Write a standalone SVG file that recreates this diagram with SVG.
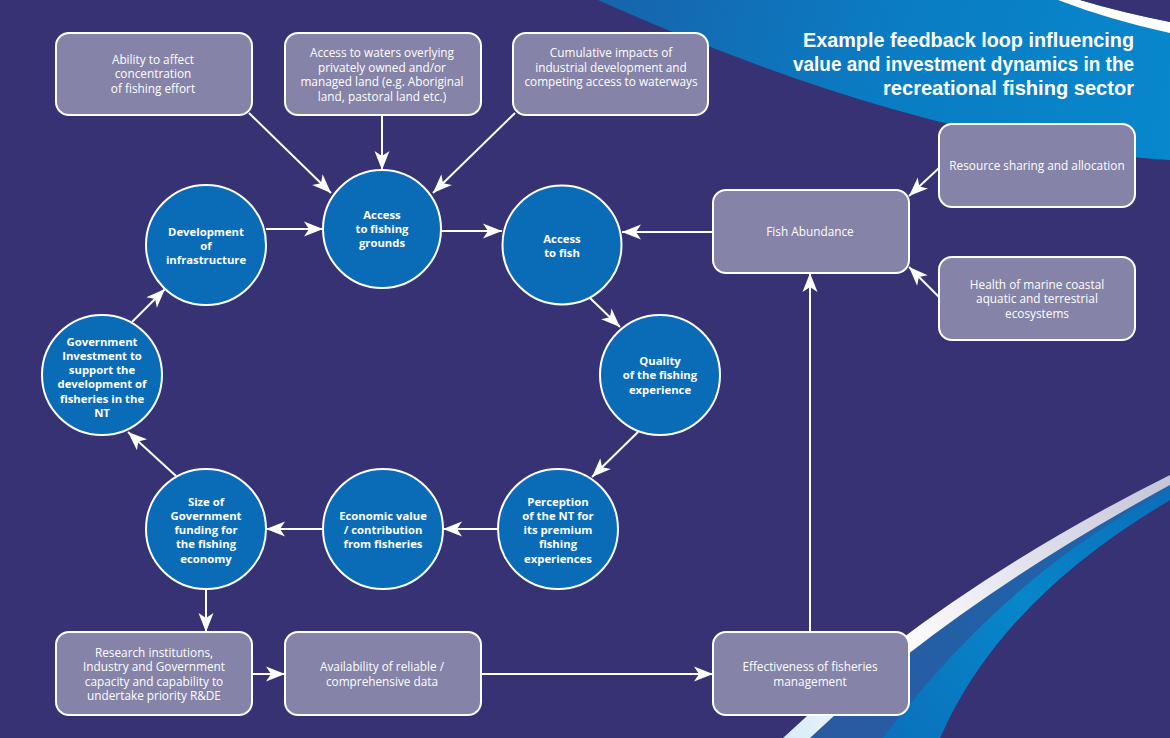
<svg xmlns="http://www.w3.org/2000/svg" width="1170" height="738" viewBox="0 0 1170 738">
<defs>
<linearGradient id="gTop" x1="600" y1="0" x2="1170" y2="120" gradientUnits="userSpaceOnUse">
<stop offset="0" stop-color="#1764ac"/><stop offset="0.5" stop-color="#0a7cc3"/><stop offset="1" stop-color="#0887cc"/>
</linearGradient>
<linearGradient id="gWhite" x1="790" y1="738" x2="1170" y2="480" gradientUnits="userSpaceOnUse">
<stop offset="0" stop-color="#d8ecf8"/><stop offset="0.3" stop-color="#ffffff"/><stop offset="1" stop-color="#c4c4da"/>
</linearGradient>
<linearGradient id="gDark" x1="800" y1="738" x2="1170" y2="490" gradientUnits="userSpaceOnUse">
<stop offset="0" stop-color="#2a5aa0"/><stop offset="1" stop-color="#1b66ad"/>
</linearGradient>
<linearGradient id="gBright" x1="900" y1="738" x2="1170" y2="500" gradientUnits="userSpaceOnUse">
<stop offset="0" stop-color="#0a72bd"/><stop offset="0.5" stop-color="#0786ca"/><stop offset="1" stop-color="#0a6fb9"/>
</linearGradient>
<marker id="ah" viewBox="-20 -8 21 16" refX="0" refY="0" markerWidth="21" markerHeight="16" markerUnits="userSpaceOnUse" orient="auto">
<path d="M0,0 L-19,-7.5 L-14,0 L-19,7.5 Z" fill="#ffffff"/>
</marker>
<style>
.box{fill:#8583a8;stroke:#ffffff;stroke-width:2}
.circ{fill:#0a6cb7;stroke:#ffffff;stroke-width:2}
.bt{font-family:"Open Sans","Noto Sans",sans-serif;font-size:11.8px;fill:#ffffff;text-anchor:middle}
.ct{font-family:"Open Sans","Noto Sans",sans-serif;font-size:11.3px;font-weight:bold;fill:#ffffff;text-anchor:middle}
.title{font-family:"Liberation Sans",Arial,sans-serif;font-size:21px;font-weight:bold;fill:#ffffff;text-anchor:end}
.con line{stroke:#ffffff;stroke-width:2;marker-end:url(#ah)}
</style>
</defs>
<rect width="1170" height="738" fill="#363273"/>
<g id="swoosh-top">
<path d="M598 0 L1170 0 L1170 160 C1000 150 800 90 598 0 Z" fill="url(#gTop)"/>
<path d="M1058 0 L1080 0 Q1120 12 1170 22 L1170 33 Q1110 20 1058 0 Z" fill="#ffffff"/>
<path d="M1080 0 L1170 0 L1170 22 Q1120 12 1080 0 Z" fill="#363273"/>
</g>
<g id="swoosh-bottom">
<path d="M810 738 Q950 605 1170 485 L1170 500 Q1000 600 940 738 Z" fill="url(#gDark)"/>
<path d="M883 738 Q1010 570 1170 490 L1170 500 Q1000 600 940 738 Z" fill="url(#gBright)"/>
<path d="M783 738 Q940 590 1170 475 L1170 485 Q950 605 810 738 Z" fill="url(#gWhite)"/>
</g>
<g id="title">
<text class="title" x="1134" y="47" textLength="331" lengthAdjust="spacingAndGlyphs">Example feedback loop influencing</text>
<text class="title" x="1134" y="71" textLength="341" lengthAdjust="spacingAndGlyphs">value and investment dynamics in the</text>
<text class="title" x="1134" y="95" textLength="251" lengthAdjust="spacingAndGlyphs">recreational fishing sector</text>
</g>
<g id="connectors" class="con">
<line x1="249" y1="113" x2="331" y2="193"/>
<line x1="382" y1="115" x2="382" y2="170"/>
<line x1="515" y1="113" x2="433" y2="193"/>
<line x1="266" y1="229" x2="323" y2="229"/>
<line x1="442" y1="231" x2="502" y2="231"/>
<line x1="713" y1="232" x2="622" y2="232"/>
<line x1="590" y1="298" x2="620" y2="327"/>
<line x1="638" y1="432" x2="592" y2="477"/>
<line x1="498" y1="529" x2="443" y2="529"/>
<line x1="323" y1="529" x2="266" y2="529"/>
<line x1="176" y1="476" x2="128" y2="432"/>
<line x1="132" y1="322" x2="165" y2="289"/>
<line x1="206" y1="588" x2="206" y2="632"/>
<line x1="252" y1="674" x2="285" y2="674"/>
<line x1="481" y1="674" x2="713" y2="674"/>
<line x1="810" y1="632" x2="810" y2="273"/>
<line x1="939" y1="168" x2="909" y2="196"/>
<line x1="939" y1="297" x2="909" y2="267"/>
</g>
<g id="n-ability">
<rect class="box" x="56" y="33" width="196" height="82" rx="13"/>
<text class="bt" x="153" y="64">Ability to affect</text>
<text class="bt" x="153" y="78">concentration</text>
<text class="bt" x="153" y="93">of fishing effort</text>
</g>
<g id="n-waters">
<rect class="box" x="285" y="33" width="196" height="82" rx="13"/>
<text class="bt" x="382" y="57">Access to waters overlying</text>
<text class="bt" x="382" y="72">privately owned and/or</text>
<text class="bt" x="382" y="86">managed land (e.g. Aboriginal</text>
<text class="bt" x="382" y="101">land, pastoral land etc.)</text>
</g>
<g id="n-cumulative">
<rect class="box" x="513" y="33" width="195" height="82" rx="13"/>
<text class="bt" x="611" y="57">Cumulative impacts of</text>
<text class="bt" x="611" y="72">industrial development and</text>
<text class="bt" x="611" y="86">competing access to waterways</text>
</g>
<g id="n-resource">
<rect class="box" x="939" y="124" width="196" height="83" rx="13"/>
<text class="bt" x="1037" y="170">Resource sharing and allocation</text>
</g>
<g id="n-abundance">
<rect class="box" x="713" y="190" width="196" height="83" rx="13"/>
<text class="bt" x="810" y="236">Fish Abundance</text>
</g>
<g id="n-health">
<rect class="box" x="939" y="257" width="196" height="83" rx="13"/>
<text class="bt" x="1037" y="289">Health of marine coastal</text>
<text class="bt" x="1037" y="303">aquatic and terrestrial</text>
<text class="bt" x="1037" y="318">ecosystems</text>
</g>
<g id="n-research">
<rect class="box" x="56" y="632" width="196" height="83" rx="13"/>
<text class="bt" x="154" y="657">Research institutions,</text>
<text class="bt" x="154" y="671">Industry and Government</text>
<text class="bt" x="154" y="686">capacity and capability to</text>
<text class="bt" x="154" y="700">undertake priority R&amp;DE</text>
</g>
<g id="n-availability">
<rect class="box" x="285" y="632" width="196" height="83" rx="13"/>
<text class="bt" x="382" y="671">Availability of reliable /</text>
<text class="bt" x="382" y="686">comprehensive data</text>
</g>
<g id="n-effectiveness">
<rect class="box" x="713" y="632" width="196" height="83" rx="13"/>
<text class="bt" x="810" y="671">Effectiveness of fisheries</text>
<text class="bt" x="810" y="686">management</text>
</g>
<g id="n-grounds">
<circle class="circ" cx="382" cy="229" r="59"/>
<text class="ct" x="382" y="219">Access</text>
<text class="ct" x="382" y="233">to fishing</text>
<text class="ct" x="382" y="247">grounds</text>
</g>
<g id="n-infrastructure">
<circle class="circ" cx="206" cy="245" r="60"/>
<text class="ct" x="206" y="236">Development</text>
<text class="ct" x="206" y="250">of</text>
<text class="ct" x="206" y="264">infrastructure</text>
</g>
<g id="n-fish">
<circle class="circ" cx="562" cy="245" r="59.5"/>
<text class="ct" x="562" y="243">Access</text>
<text class="ct" x="562" y="257">to fish</text>
</g>
<g id="n-quality">
<circle class="circ" cx="660" cy="375" r="60"/>
<text class="ct" x="660" y="365">Quality</text>
<text class="ct" x="660" y="379">of the fishing</text>
<text class="ct" x="660" y="394">experience</text>
</g>
<g id="n-perception">
<circle class="circ" cx="558" cy="529" r="60"/>
<text class="ct" x="558" y="506">Perception</text>
<text class="ct" x="558" y="520">of the NT for</text>
<text class="ct" x="558" y="534">its premium</text>
<text class="ct" x="558" y="548">fishing</text>
<text class="ct" x="558" y="563">experiences</text>
</g>
<g id="n-economic">
<circle class="circ" cx="383" cy="529" r="60"/>
<text class="ct" x="383" y="520">Economic value</text>
<text class="ct" x="383" y="534">/ contribution</text>
<text class="ct" x="383" y="548">from fisheries</text>
</g>
<g id="n-size">
<circle class="circ" cx="206" cy="529" r="60"/>
<text class="ct" x="206" y="506">Size of</text>
<text class="ct" x="206" y="520">Government</text>
<text class="ct" x="206" y="534">funding for</text>
<text class="ct" x="206" y="548">the fishing</text>
<text class="ct" x="206" y="563">economy</text>
</g>
<g id="n-investment">
<circle class="circ" cx="102" cy="375" r="60"/>
<text class="ct" x="102" y="346">Government</text>
<text class="ct" x="102" y="360">Investment to</text>
<text class="ct" x="102" y="374">support the</text>
<text class="ct" x="102" y="388">development of</text>
<text class="ct" x="102" y="403">fisheries in the</text>
<text class="ct" x="102" y="417">NT</text>
</g>
</svg>
